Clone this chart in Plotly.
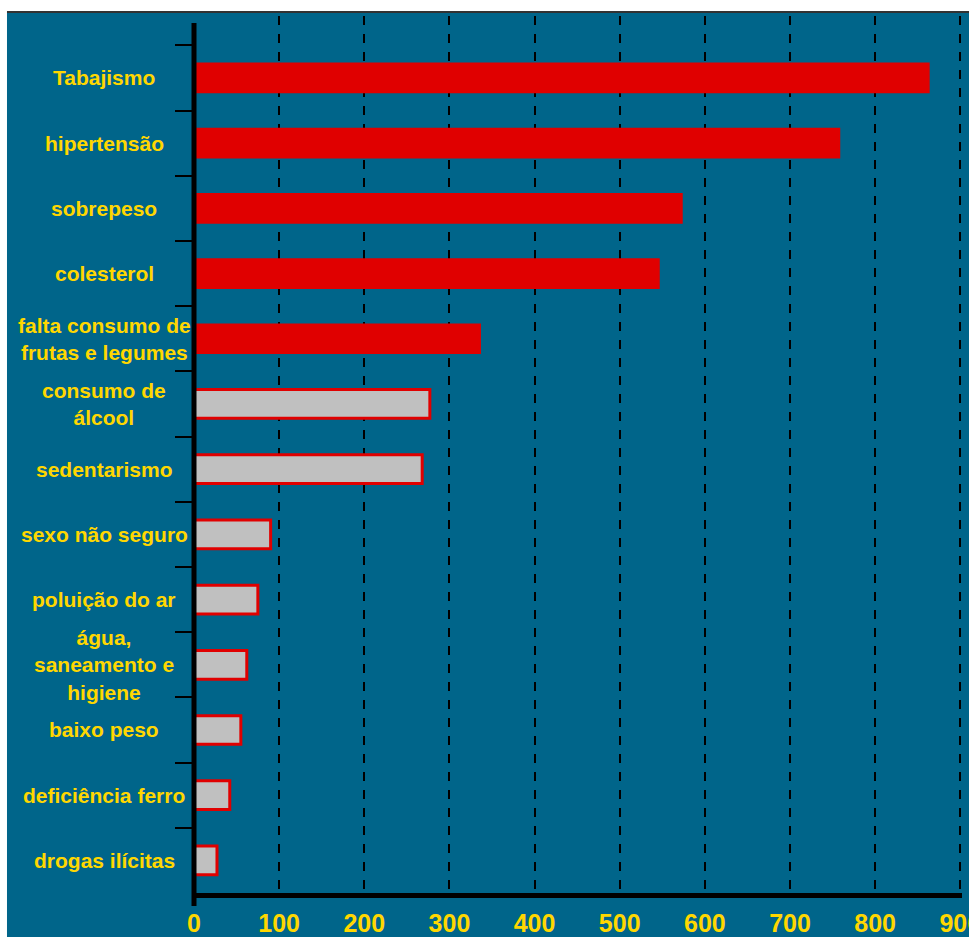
import plotly.graph_objects as go

# ---- data ----
categories = [
    "Tabajismo", "hipertensão", "sobrepeso", "colesterol",
    "falta consumo de<br>frutas e legumes", "consumo de<br>álcool", "sedentarismo",
    "sexo não seguro", "poluição do ar", "água,<br>saneamento e<br>higiene",
    "baixo peso", "deficiência ferro", "drogas ilícitas",
]
values = [864, 759, 574, 547, 337, 277, 268, 90, 75, 62, 55, 42, 27]
n_highlight = 5  # first five bars drawn in solid red
x_ticks = [0, 100, 200, 300, 400, 500, 600, 700, 800, 900]

TEAL = "#00658A"
RED = "#E00000"
GRAY = "#C0C0C0"
YELLOW = "#FFD700"
FONT = "Liberation Sans, Arial, sans-serif"

fig = go.Figure()
fig.add_trace(go.Bar(
    y=categories[:n_highlight], x=values[:n_highlight], orientation="h",
    marker=dict(color=RED, line=dict(width=0)), width=0.47, showlegend=False,
))
fig.add_trace(go.Bar(
    y=categories[n_highlight:], x=values[n_highlight:], orientation="h",
    marker=dict(color=GRAY, line=dict(color=RED, width=3)), width=0.44, showlegend=False,
))

for c in categories:
    fig.add_annotation(
        x=-0.117, xref="paper", y=c, yref="y", text=c, showarrow=False,
        xanchor="center", yanchor="middle", align="center",
        font=dict(family=FONT, size=21, color=YELLOW, weight="bold"),
    )

# background panel and top rule
fig.add_shape(type="rect", xref="paper", yref="paper", x0=-0.2435, x1=1.03,
              y0=-0.07, y1=1.0046, fillcolor=TEAL, line=dict(width=0), layer="below")
fig.add_shape(type="line", xref="paper", yref="paper", x0=-0.2435, x1=1.03,
              y0=1.0046, y1=1.0046, line=dict(color="#333333", width=2), layer="below")
# vertical axis rule (starts a little below the panel top, runs past the x axis)
fig.add_shape(type="line", xref="paper", yref="paper", x0=0, x1=0,
              y0=-0.0148, y1=0.992, line=dict(color="black", width=5), layer="above")

fig.update_layout(
    width=969, height=937,
    margin=dict(l=194, r=7, t=16, b=44),
    paper_bgcolor="white", plot_bgcolor=TEAL,
    barmode="overlay",
    xaxis=dict(
        range=[0, 902], tickvals=x_ticks, ticktext=[str(v) for v in x_ticks],
        showgrid=True, gridcolor="black", griddash="dash", gridwidth=2,
        zeroline=False, showline=True, linecolor="black", linewidth=5,
        ticks="", tickfont=dict(family=FONT, size=25, color=YELLOW, weight="bold"),
        ticklabelstandoff=4, ticklabeloverflow="allow", automargin=False,
    ),
    yaxis=dict(
        categoryorder="array", categoryarray=categories,
        range=[12.5, -0.95], showgrid=False, zeroline=False,
        showline=False,
        ticks="outside", tickson="boundaries", ticklen=18, tickwidth=2, tickcolor="black",
        showticklabels=False, automargin=False,
    ),
)

# remove the default page margin so the figure sits at the window's top-left corner
fig.write_html(
    "out.html",
    config={"displayModeBar": False},
    post_script="document.body.style.margin='0';document.body.style.overflow='hidden';",
)
